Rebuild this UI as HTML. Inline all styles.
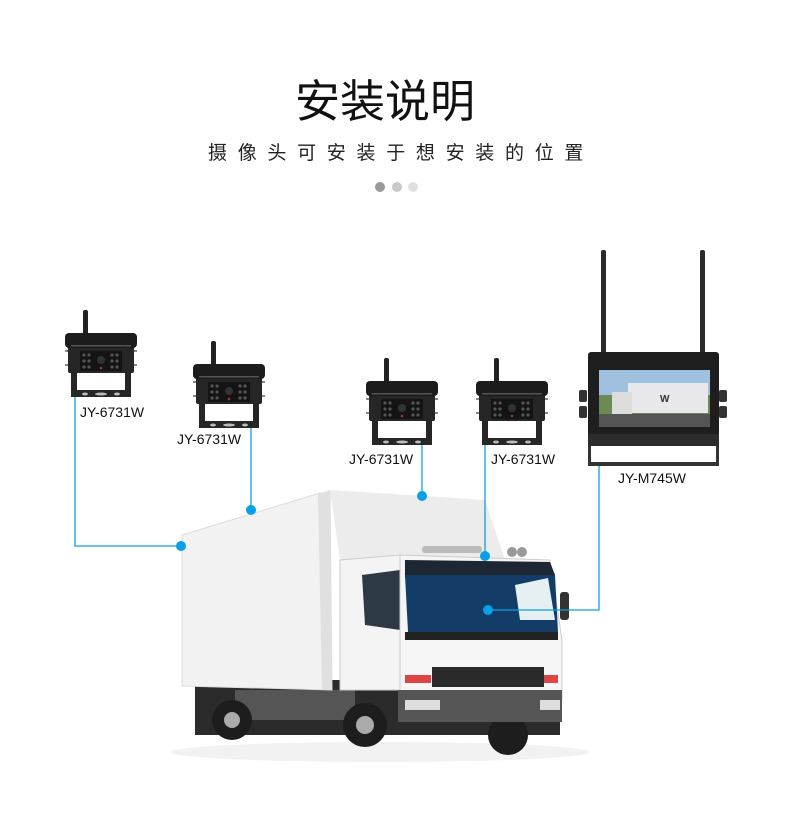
<!DOCTYPE html>
<html><head><meta charset="utf-8"><style>
html,body{margin:0;padding:0;background:#fff;}
body{width:790px;height:840px;overflow:hidden;position:relative;font-family:"Liberation Sans","Noto Sans CJK SC",sans-serif;}
svg{position:absolute;left:0;top:0;}
</style></head><body>
<svg width="790" height="840" viewBox="0 0 790 840" xmlns="http://www.w3.org/2000/svg">
<defs>
<g id="cam">
  <rect x="18" y="0" width="5" height="32" rx="2" fill="#222"/>
  <rect x="6" y="56" width="60" height="31" fill="#262626"/>
  <rect x="12" y="56" width="48" height="24" fill="#fff"/>
  <ellipse cx="20" cy="84" rx="3" ry="1.5" fill="#bbb"/>
  <ellipse cx="36" cy="84" rx="6" ry="1.5" fill="#bbb"/>
  <ellipse cx="52" cy="84" rx="3" ry="1.5" fill="#bbb"/>
  <rect x="3" y="33" width="66" height="30" rx="2" fill="#262626"/>
  <rect x="0" y="23" width="72" height="15" rx="4" fill="#1c1c1c"/>
  <rect x="6" y="35" width="60" height="1.5" fill="#555"/>
  <rect x="15" y="41" width="42" height="20" fill="#141414"/>
  <g fill="#555">
    <circle cx="19" cy="45" r="1.6"/><circle cx="24" cy="45" r="1.6"/>
    <circle cx="19" cy="51" r="1.6"/><circle cx="24" cy="51" r="1.6"/>
    <circle cx="19" cy="57" r="1.6"/><circle cx="24" cy="57" r="1.6"/>
    <circle cx="47" cy="45" r="1.6"/><circle cx="52" cy="45" r="1.6"/>
    <circle cx="47" cy="51" r="1.6"/><circle cx="52" cy="51" r="1.6"/>
    <circle cx="47" cy="57" r="1.6"/><circle cx="52" cy="57" r="1.6"/>
  </g>
  <circle cx="36" cy="50" r="4" fill="#333"/>
  <circle cx="36" cy="58" r="1.3" fill="#a33"/>
  <rect x="0" y="40" width="3" height="2" fill="#888"/><rect x="69" y="40" width="3" height="2" fill="#888"/>
  <rect x="0" y="54" width="3" height="2" fill="#888"/><rect x="69" y="54" width="3" height="2" fill="#888"/>
</g>
</defs>

<text x="385" y="117" text-anchor="middle" font-size="45" fill="#111" font-family="Liberation Sans,Noto Sans CJK SC,sans-serif">安装说明</text>
<text x="208" y="159" font-size="19" letter-spacing="10.7" fill="#222" font-family="Liberation Sans,Noto Sans CJK SC,sans-serif">摄像头可安装于想安装的位置</text>
<circle cx="380" cy="187" r="5" fill="#999"/>
<circle cx="397" cy="187" r="5" fill="#c8c8c8"/>
<circle cx="413" cy="187" r="5" fill="#e0e0e0"/>

<use href="#cam" x="65" y="310"/>
<use href="#cam" x="193" y="341"/>
<use href="#cam" x="366" y="358"/>
<use href="#cam" x="476" y="358"/>

<g font-size="14" fill="#111" font-family="Liberation Sans,sans-serif">
<text x="80" y="417">JY-6731W</text>
<text x="177" y="444">JY-6731W</text>
<text x="349" y="464">JY-6731W</text>
<text x="491" y="464">JY-6731W</text>
<text x="618" y="483">JY-M745W</text>
</g>

<!-- monitor -->
<rect x="601" y="250" width="5" height="104" rx="2" fill="#2a2a2a"/>
<rect x="700" y="250" width="5" height="104" rx="2" fill="#2a2a2a"/>
<path d="M588 440 V466 H719 V440 H716 V462 H591 V440 Z" fill="#333"/>
<rect x="579" y="390" width="8" height="12" rx="2" fill="#333"/>
<rect x="579" y="406" width="8" height="12" rx="2" fill="#333"/>
<rect x="719" y="390" width="8" height="12" rx="2" fill="#333"/>
<rect x="719" y="406" width="8" height="12" rx="2" fill="#333"/>
<rect x="588" y="352" width="131" height="94" rx="3" fill="#1e1e1e"/>
<rect x="588" y="434" width="131" height="12" fill="#2c2c2c"/>
<rect x="599" y="370" width="111" height="57" fill="#9fc0df"/>
<rect x="599" y="395" width="111" height="32" fill="#6d8a52"/>
<rect x="599" y="414" width="111" height="13" fill="#555"/>
<rect x="628" y="383" width="80" height="30" fill="#e8e8ec"/>
<rect x="612" y="392" width="20" height="22" fill="#dcdcdc"/>
<text x="660" y="402" font-size="10" fill="#333" font-weight="bold">W</text>

<!-- truck -->
<ellipse cx="380" cy="752" rx="210" ry="10" fill="#f2f2f2"/>
<path d="M195 680 L560 680 L560 735 L195 735 Z" fill="#2b2b2b"/>
<path d="M235 690 H355 V720 H235 Z" fill="#555"/>
<circle cx="232" cy="720" r="20" fill="#1d1d1d"/><circle cx="232" cy="720" r="8" fill="#aaa"/>
<circle cx="365" cy="725" r="22" fill="#1d1d1d"/><circle cx="365" cy="725" r="9" fill="#aaa"/>
<circle cx="508" cy="735" r="20" fill="#1d1d1d"/>
<path d="M182 535 L320 493 L330 493 L332 690 L182 686 Z" fill="#f2f2f2" stroke="#ddd"/>
<path d="M330 490 L485 500 L505 560 L340 560 Z" fill="#ececec"/>
<path d="M318 494 L330 490 L332 690 L322 690 Z" fill="#e0e0e0"/>
<path d="M340 560 L400 555 L400 690 L340 690 Z" fill="#f4f4f4" stroke="#ccc"/>
<path d="M362 575 L400 570 L400 630 L365 625 Z" fill="#2e3946"/>
<path d="M400 555 L550 560 L562 640 L562 700 L400 700 Z" fill="#f5f5f5" stroke="#ccc"/>
<path d="M405 560 L550 562 L555 575 L405 578 Z" fill="#1d2733"/>
<path d="M405 575 L555 575 L558 632 L408 632 Z" fill="#133d66"/>
<path d="M515 585 L548 578 L555 620 L520 620 Z" fill="#e6f0f3"/>
<rect x="405" y="632" width="153" height="8" fill="#222"/>
<rect x="432" y="667" width="112" height="20" fill="#2a2a2a"/>
<rect x="405" y="675" width="26" height="8" fill="#d44"/>
<rect x="544" y="675" width="14" height="8" fill="#d44"/>
<path d="M398 690 H562 V722 H398 Z" fill="#555"/>
<rect x="405" y="700" width="35" height="10" fill="#ddd"/>
<rect x="540" y="700" width="20" height="10" fill="#ddd"/>
<rect x="422" y="546" width="60" height="7" rx="3" fill="#bbb"/>
<circle cx="512" cy="552" r="5" fill="#999"/><circle cx="522" cy="552" r="5" fill="#999"/>
<rect x="560" y="592" width="9" height="28" rx="3" fill="#333"/>

<g stroke="#0aa0e8" stroke-width="1.3" fill="none">
<path d="M75 397 V546 H181"/>
<path d="M251 428 V510"/>
<path d="M422 445 V496"/>
<path d="M485 445 V556"/>
<path d="M599 466 V610 H488"/>
</g>
<g fill="#0aa0e8">
<circle cx="181" cy="546" r="5"/>
<circle cx="251" cy="510" r="5"/>
<circle cx="422" cy="496" r="5"/>
<circle cx="485" cy="556" r="5"/>
<circle cx="488" cy="610" r="5"/>
</g>
</svg>
</body></html>
